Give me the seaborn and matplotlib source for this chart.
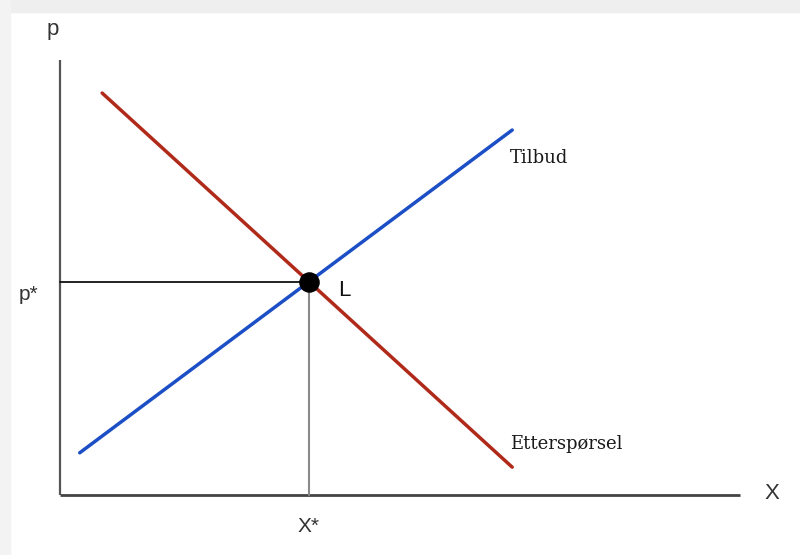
import matplotlib
matplotlib.use("Agg")
import matplotlib.pyplot as plt
import matplotlib.patches as mpatches
import pandas as pd
import seaborn as sns

# data (economic units, axes run 0..10)
tilbud_x = [0.29, 6.65]
tilbud_p = [0.97, 8.39]
ettersp_x = [0.62, 6.65]
ettersp_p = [9.24, 0.64]
eq_x, eq_p = 3.66, 4.90

sns.set_style("white")
plt.rcParams['font.family'] = ['Liberation Sans', 'DejaVu Sans']

fig = plt.figure(figsize=(8, 5.55), dpi=100)
ax = fig.add_axes([0, 0, 1, 1])
ax.set_xlim(-60 / 68, 740 / 68)
ax.set_ylim((495 - 555) / 43.5, 495 / 43.5)

# light grey frame at top and left edge
fig.patches.append(mpatches.Rectangle((0, 1 - 12 / 555), 1, 12 / 555, transform=fig.transFigure,
                                      color="#efefef", zorder=0))
fig.patches.append(mpatches.Rectangle((0, 0), 10 / 800, 1, transform=fig.transFigure,
                                      color="#f3f3f3", zorder=0))

# akser
ax.plot([0, 0], [0, 10], color="#555555", lw=1.6, solid_capstyle="butt")
ax.plot([0, 10], [0, 0], color="#444444", lw=2.0, solid_capstyle="butt")

# hjelpelinjer til likevekt
ax.plot([0, eq_x], [eq_p, eq_p], color="#111111", lw=1.3)
ax.plot([eq_x, eq_x], [0, eq_p], color="#8a8a8a", lw=1.5)

df = pd.DataFrame({
    "x": tilbud_x + ettersp_x,
    "p": tilbud_p + ettersp_p,
    "kurve": ["Tilbud"] * 2 + ["Etterspørsel"] * 2,
})
sns.lineplot(data=df, x="x", y="p", hue="kurve", palette={"Tilbud": "#1c4fc6", "Etterspørsel": "#b02a1a"},
             lw=2.5, legend=False, ax=ax, estimator=None, sort=False)
ax.axis("off")

ax.scatter([eq_x], [eq_p], s=190, color="black", zorder=5)

ax.text(-0.1, 10.7, "p", fontsize=16, color="#333333", ha="center", va="center")
ax.text(-0.46, eq_p - 0.3, "p*", fontsize=15, color="#333333", ha="center", va="center")
ax.text(eq_x, -0.72, "X*", fontsize=15, color="#333333", ha="center", va="center")
ax.text(10.47, 0.03, "X", fontsize=16, color="#333333", ha="center", va="center")
ax.text(eq_x + 0.52, eq_p - 0.19, "L", fontsize=16, color="#111111", ha="center", va="center")
ax.text(6.62, 7.75, "Tilbud", fontsize=13, family="DejaVu Serif", color="#1a1a1a", ha="left", va="center")
ax.text(6.62, 1.17, "Etterspørsel", fontsize=13, family="DejaVu Serif", color="#1a1a1a", ha="left", va="center")

fig.savefig("out.png", dpi=100)
